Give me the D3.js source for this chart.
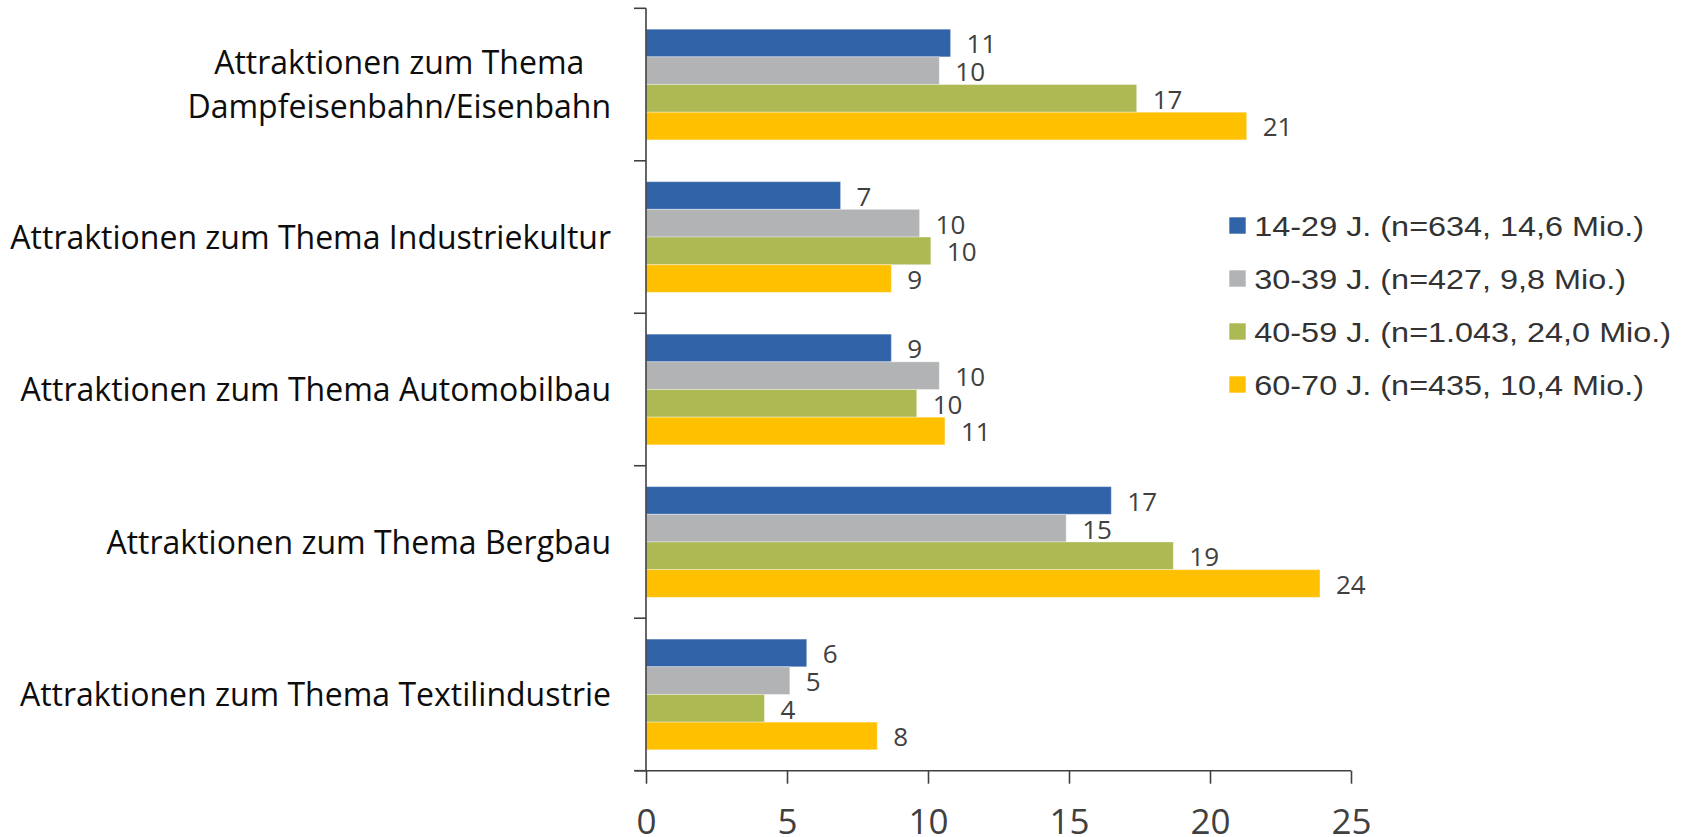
<!DOCTYPE html>
<html>
<head>
<meta charset="utf-8">
<script src="https://cdn.jsdelivr.net/npm/d3@7"></script>
<style>
  html, body { margin: 0; padding: 0; background: #fff; }
  svg { display: block; }
</style>
</head>
<body>
<svg id="chart" width="1692" height="837"></svg>
<script>
// ---- data ----
const categories = [
  ["Attraktionen zum Thema", "Dampfeisenbahn/Eisenbahn"],
  ["Attraktionen zum Thema Industriekultur"],
  ["Attraktionen zum Thema Automobilbau"],
  ["Attraktionen zum Thema Bergbau"],
  ["Attraktionen zum Thema Textilindustrie"]
];
const seriesNames = [
  "14-29 J. (n=634, 14,6 Mio.)",
  "30-39 J. (n=427, 9,8 Mio.)",
  "40-59 J. (n=1.043, 24,0 Mio.)",
  "60-70 J. (n=435, 10,4 Mio.)"
];
const seriesColors = ["#3163a8", "#b2b3b5", "#adb953", "#ffc000"];
// values per series, in category order
const values1429 = [10.8, 6.9, 8.7, 16.5, 5.7];
const values3039 = [10.4, 9.7, 10.4, 14.9, 5.1];
const values4059 = [17.4, 10.1, 9.6, 18.7, 4.2];
const values6070 = [21.3, 8.7, 10.6, 23.9, 8.2];
const seriesValues = [values1429, values3039, values4059, values6070];
const xTicks = [0, 5, 10, 15, 20, 25];

// ---- layout ----
const svg = d3.select("#chart");
const plotLeft = 646, plotRight = 1351, plotTop = 8.3, plotBottom = 770.7;
const catKeys = categories.map((c, i) => i);

const x = d3.scaleLinear().domain([0, 25]).range([plotLeft, plotRight]);
const y = d3.scaleBand().domain(catKeys).range([plotTop, plotBottom])
  .paddingInner(0.274).paddingOuter(0.137);
const ySub = d3.scaleBand().domain(d3.range(seriesNames.length)).range([0, y.bandwidth()]);

const axisColor = "#404040";
const labelFont = "'Open Sans', 'Noto Sans', sans-serif";

// bars
const groups = svg.append("g").selectAll("g").data(catKeys).join("g")
  .attr("transform", d => `translate(0,${y(d)})`);

groups.selectAll("rect").data(ci => seriesValues.map((vals, si) => ({si, v: vals[ci]})))
  .join("rect")
  .attr("x", x(0))
  .attr("y", d => ySub(d.si))
  .attr("width", d => x(d.v) - x(0))
  .attr("height", ySub.bandwidth())
  .attr("fill", d => seriesColors[d.si])
  .attr("stroke", "#ffffff").attr("stroke-opacity", 0.35).attr("stroke-width", 1);

const fmt = d3.format(".0f");
groups.selectAll("text.val").data(ci => seriesValues.map((vals, si) => ({si, v: vals[ci]})))
  .join("text").attr("class", "val")
  .attr("x", d => x(d.v) + 16)
  .attr("y", d => ySub(d.si) + ySub.bandwidth() / 2)
  .attr("dy", "0.4em")
  .attr("font-family", labelFont)
  .attr("font-size", 26)
  .attr("fill", "#404040")
  .text(d => fmt(d.v));

// y axis
const yAxis = svg.append("g");
yAxis.append("line")
  .attr("x1", x(0)).attr("x2", x(0))
  .attr("y1", plotTop).attr("y2", plotBottom)
  .attr("stroke", axisColor).attr("stroke-width", 1.6);
const boundaries = d3.range(categories.length + 1).map(i => y.range()[0] + i * y.step());
yAxis.selectAll("line.tick").data(boundaries).join("line").attr("class", "tick")
  .attr("x1", x(0) - 12).attr("x2", x(0))
  .attr("y1", d => d).attr("y2", d => d)
  .attr("stroke", axisColor).attr("stroke-width", 1.6);

// category labels
const labelRight = 611;
categories.forEach((lines, ci) => {
  const cy = y(ci) + y.bandwidth() / 2;
  const g = svg.append("g");
  const lineGap = 44;
  const texts = lines.map((t, li) => g.append("text")
    .attr("y", cy + (li - (lines.length - 1) / 2) * lineGap)
    .attr("dy", "0.36em")
    .attr("font-family", labelFont)
    .attr("font-size", 32)
    .attr("fill", "#0d0d0d")
    .attr("text-anchor", "middle")
    .text(t));
  const maxW = d3.max(texts, t => t.node().getComputedTextLength());
  texts.forEach(t => t.attr("x", labelRight - maxW / 2));
});

// x axis
const xAxis = svg.append("g").attr("transform", `translate(0,${plotBottom})`)
  .call(d3.axisBottom(x).tickValues(xTicks).tickSize(13).tickSizeOuter(0));
xAxis.select(".domain").remove();
xAxis.append("line").attr("x1", x(0) - 11).attr("x2", x(25))
  .attr("stroke", axisColor).attr("stroke-width", 1.6);
xAxis.selectAll(".tick line").attr("stroke", axisColor).attr("stroke-width", 1.6);
xAxis.selectAll(".tick text")
  .attr("y", 63).attr("dy", 0)
  .attr("font-family", labelFont)
  .attr("font-size", 35)
  .attr("fill", "#404040");

// legend
const legend = svg.append("g");
const legendX = 1229.3, legendY0 = 225.5, legendStep = 53;
seriesNames.forEach((name, i) => {
  const cy = legendY0 + i * legendStep;
  legend.append("rect")
    .attr("x", legendX).attr("y", cy - 8.2)
    .attr("width", 16.4).attr("height", 16.4)
    .attr("fill", seriesColors[i]);
  legend.append("text")
    .attr("transform", `translate(${legendX + 25},${cy + 10}) scale(1.2,1)`)
    .attr("font-family", "'Liberation Sans', Arial, sans-serif")
    .attr("font-size", 27)
    .attr("fill", "#333333")
    .text(name);
});
</script>
</body>
</html>
